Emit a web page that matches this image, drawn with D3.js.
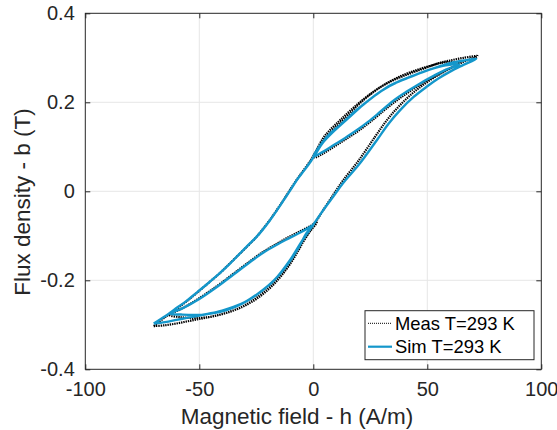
<!DOCTYPE html>
<html>
<head>
<meta charset="utf-8">
<script src="https://cdn.jsdelivr.net/npm/d3@7"></script>
<style>
  html, body { margin: 0; padding: 0; background: #fff; }
  svg { display: block; font-family: "Liberation Sans", Arial, Helvetica, sans-serif; }
</style>
</head>
<body>
<svg id="chart" width="557" height="430"></svg>
<script>
// ---- Data ----
const xTicks = [-100, -50, 0, 50, 100];
const xTickLabels = ["-100", "-50", "0", "50", "100"];
const yTicks = [-0.4, -0.2, 0, 0.2, 0.4];
const yTickLabels = ["-0.4", "-0.2", "0", "0.2", "0.4"];
const xLabel = "Magnetic field - h (A/m)";
const yLabel = "Flux density - b (T)";
const seriesNames = ["Meas T=293 K", "Sim T=293 K"];

// Simulated loop (h in A/m, b in T), traced in time order
const simH = [
  -70, -65, -60, -55, -50, -45, -40, -35, -30, -25, -20, -15, -10, -6, -3, 0,
  -3, -7, -12, -16, -22, -28, -35, -42, -50, -57, -62.7,
  -58, -52, -45, -38, -31, -24, -17, -10, -5, 0, 4, 9, 13, 20, 28, 33, 38, 44, 50, 55, 60, 65, 71.5,
  66, 60, 55, 48, 41, 34, 27, 19, 12, 7, 4, 0,
  4, 9, 14, 19, 24, 29, 35, 41, 47, 53, 58, 64,
  58, 52, 45, 38, 30, 22, 15, 9, 4, 1, -1, -4, -7, -10, -13, -16, -19, -22, -25, -29, -33, -37, -41, -46, -51, -56, -61, -65, -70
];
const simB = [
  -0.297, -0.294, -0.289, -0.284, -0.279, -0.274, -0.268, -0.260, -0.249, -0.233, -0.213, -0.188, -0.155, -0.122, -0.094, -0.076,
  -0.085, -0.096, -0.109, -0.120, -0.138, -0.160, -0.187, -0.214, -0.242, -0.262, -0.275,
  -0.277, -0.278, -0.275, -0.267, -0.252, -0.229, -0.199, -0.153, -0.112, -0.075, -0.045, -0.010, 0.018, 0.060, 0.116, 0.152, 0.182, 0.212, 0.236, 0.254, 0.269, 0.282, 0.298,
  0.294, 0.288, 0.280, 0.268, 0.254, 0.239, 0.215, 0.183, 0.150, 0.128, 0.110, 0.078,
  0.088, 0.104, 0.120, 0.137, 0.156, 0.177, 0.203, 0.224, 0.243, 0.260, 0.273, 0.285,
  0.283, 0.275, 0.262, 0.248, 0.226, 0.195, 0.163, 0.135, 0.108, 0.084, 0.068, 0.047, 0.027, 0.003, -0.020, -0.043, -0.065, -0.085, -0.103, -0.123, -0.144, -0.165, -0.184, -0.206, -0.227, -0.248, -0.266, -0.281, -0.297
];

// Measured loop
const measH = [
  -70, -65, -60, -55, -50, -45, -40, -35, -30, -25, -20, -15, -10, -6, -3, 1.5,
  -2, -7, -12, -16, -22, -28, -35, -42, -50, -57, -63,
  -58, -52, -45, -38, -31, -24, -17, -10, -5, 0, 4, 9, 13, 20, 27, 32, 37, 43, 49, 55, 60, 65, 72,
  66, 60, 55, 48, 41, 34, 27, 19, 12, 7, 4, 0.5,
  4, 9, 14, 19, 24, 29, 35, 41, 47, 53, 58, 64,
  58, 52, 45, 38, 30, 22, 15, 9, 4, 1, -1, -4, -7, -10, -13, -16, -19, -22, -25, -29, -33, -37, -41, -46, -51, -56, -61, -65, -70
];
const measB = [
  -0.303, -0.301, -0.297, -0.292, -0.287, -0.282, -0.276, -0.268, -0.257, -0.242, -0.222, -0.196, -0.162, -0.128, -0.100, -0.070,
  -0.080, -0.093, -0.106, -0.118, -0.136, -0.158, -0.185, -0.212, -0.240, -0.262, -0.278,
  -0.283, -0.285, -0.282, -0.273, -0.259, -0.236, -0.205, -0.160, -0.118, -0.078, -0.045, -0.006, 0.024, 0.070, 0.122, 0.158, 0.188, 0.218, 0.242, 0.262, 0.276, 0.289, 0.304,
  0.300, 0.294, 0.288, 0.275, 0.262, 0.247, 0.226, 0.194, 0.161, 0.136, 0.117, 0.076,
  0.084, 0.100, 0.116, 0.133, 0.152, 0.173, 0.198, 0.220, 0.240, 0.258, 0.272, 0.288,
  0.290, 0.283, 0.272, 0.258, 0.236, 0.205, 0.170, 0.140, 0.110, 0.088, 0.071, 0.049, 0.028, 0.005, -0.019, -0.042, -0.064, -0.084, -0.103, -0.124, -0.144, -0.164, -0.184, -0.206, -0.228, -0.249, -0.268, -0.283, -0.303
];

// ---- Chart ----
const svg = d3.select("#chart");
const L = 85.3, R = 541.3, T = 13.3, B = 369.3;
const x = d3.scaleLinear().domain([-100, 100]).range([L, R]);
const y = d3.scaleLinear().domain([-0.4, 0.4]).range([B, T]);
const axisColor = "#262626";
const simColor = "#1497cb";

// Grid
const grid = svg.append("g");
grid.selectAll("line.gx").data(xTicks.slice(1, -1)).join("line")
  .attr("x1", d => x(d)).attr("x2", d => x(d)).attr("y1", T).attr("y2", B)
  .attr("stroke", "#e6e6e6").attr("stroke-width", 1);
grid.selectAll("line.gy").data(yTicks.slice(1, -1)).join("line")
  .attr("x1", L).attr("x2", R).attr("y1", d => y(d)).attr("y2", d => y(d))
  .attr("stroke", "#e6e6e6").attr("stroke-width", 1);

// Curves
const line = d3.line().x(d => x(d[0])).y(d => y(d[1])).curve(d3.curveCatmullRom.alpha(0.5));
const measPts = measH.map((h, i) => [h, measB[i]]);
const simPts = simH.map((h, i) => [h, simB[i]]);

svg.append("path").datum(measPts).attr("d", line)
  .attr("fill", "none").attr("stroke", "#000").attr("stroke-width", 2.2)
  .attr("stroke-dasharray", "1.4,0.9");
svg.append("path").datum(simPts).attr("d", line)
  .attr("fill", "none").attr("stroke", simColor).attr("stroke-width", 2.4)
  .attr("stroke-linejoin", "round");

// Axes
const fs = 20;
const xAxis = d3.axisBottom(x).tickValues(xTicks).tickSizeInner(-5).tickSizeOuter(0).tickPadding(13)
  .tickFormat((d, i) => xTickLabels[i]);
const yAxis = d3.axisLeft(y).tickValues(yTicks).tickSizeInner(-5).tickSizeOuter(0).tickPadding(10.5)
  .tickFormat((d, i) => yTickLabels[i]);
const xAxisTop = d3.axisTop(x).tickValues(xTicks).tickSizeInner(-5).tickSizeOuter(0).tickFormat("");
const yAxisRight = d3.axisRight(y).tickValues(yTicks).tickSizeInner(-5).tickSizeOuter(0).tickFormat("");

function style(g) {
  g.select(".domain").remove();
  g.selectAll("line").attr("stroke", axisColor);
  g.selectAll("text").attr("fill", axisColor).attr("font-size", fs)
    .attr("font-family", '"Liberation Sans", Arial, Helvetica, sans-serif');
}
svg.append("g").attr("transform", `translate(0,${B})`).call(xAxis).call(style);
svg.append("g").attr("transform", `translate(${L},0)`).call(yAxis).call(style);
svg.append("g").attr("transform", `translate(0,${T})`).call(xAxisTop).call(style);
svg.append("g").attr("transform", `translate(${R},0)`).call(yAxisRight).call(style);

// Box
svg.append("rect").attr("x", L).attr("y", T).attr("width", R - L).attr("height", B - T)
  .attr("fill", "none").attr("stroke", axisColor).attr("stroke-width", 1);

// Labels
svg.append("text").attr("x", 297).attr("y", 424).attr("text-anchor", "middle")
  .attr("font-size", 22.5).attr("fill", axisColor).text(xLabel);
svg.append("text").attr("transform", "translate(30,202) rotate(-90)").attr("text-anchor", "middle")
  .attr("font-size", 22.5).attr("fill", axisColor).text(yLabel);

// Legend
const lg = svg.append("g");
lg.append("rect").attr("x", 365).attr("y", 310.7).attr("width", 169).attr("height", 49)
  .attr("fill", "#fff").attr("stroke", axisColor).attr("stroke-width", 1);
const rows = [323.3, 346.7];
lg.append("line").attr("x1", 368).attr("x2", 392).attr("y1", rows[0]).attr("y2", rows[0])
  .attr("stroke", "#000").attr("stroke-width", 1).attr("stroke-dasharray", "1,1");
lg.append("line").attr("x1", 368).attr("x2", 392).attr("y1", rows[1]).attr("y2", rows[1])
  .attr("stroke", simColor).attr("stroke-width", 2.2);
seriesNames.forEach((n, i) => {
  lg.append("text").attr("x", 395).attr("y", rows[i] + 6.5).attr("font-size", 18.4)
    .attr("fill", "#000").text(n);
});
</script>
</body>
</html>
